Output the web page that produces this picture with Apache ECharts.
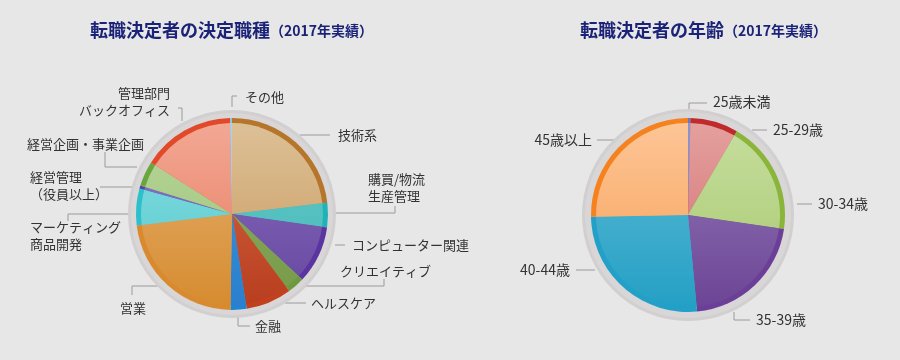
<!DOCTYPE html>
<html><head><meta charset="utf-8">
<script src="https://cdn.jsdelivr.net/npm/echarts@6/dist/echarts.min.js"></script>
<style>html,body{margin:0;padding:0;background:#e8e7e7}#c{width:900px;height:360px}</style>
</head><body><div id="c"></div>
<script>
// ---- data ----
const jobCategories = ['技術系','購買/物流\n生産管理','コンピューター関連','クリエイティブ','ヘルスケア','金融','営業','マーケティング\n商品開発','経営管理\n（役員以上）','経営企画・事業企画','管理部門\nバックオフィス','その他'];
const jobValues = [23.1, 4.1, 9.7, 2.9, 7.7, 2.7, 22.8, 6.2, 0.5, 4.2, 15.7, 0.3];
const ageCategories = ['25歳未満','25-29歳','30-34歳','35-39歳','40-44歳','45歳以上'];
const ageValues = [0.4, 8.0, 18.9, 21.2, 26.2, 25.3];

// ---- styles ----
const jobRim  = ['#b5762c','#1fb2b8','#5a34a0','#6d9a3e','#c2401e','#2383d3','#d98a2e','#2cc0cc','#5443a8','#6aa63e','#e2492a','#8cc4e4'];
const jobTop  = ['#dcc096','#62c8c8','#8a6fbd','#8fb065','#d66a4a','#4096dc','#e6b272','#80dcdf','#8a7cc8','#b8d69a','#f2a894','#a8d4ec'];
const jobBot  = ['#c99a5e','#48b8b8','#6546a0','#769a48','#b83e1e','#2a80cc','#d68c30','#5ccad0','#6656b0','#9cc078','#e8785c','#90c4e0'];
const ageRim  = ['#6a78c4','#bf2a2a','#8ab53a','#6b3f98','#22a0c8','#f5821f'];
const ageTop  = ['#8a94d0','#e4a09e','#c6de9e','#957bb8','#62bcd8','#fdc596'];
const ageBot  = ['#7080c0','#d06c6c','#a6c86e','#6c4596','#24a0c4','#f7a055'];

// label placement (styling): label anchor [x, y, align, verticalAlign] and leader-line polyline
const jobLabelPos = [
  [338,135,'left','middle'], [368,188,'left','middle'], [352,245,'left','middle'], [340,271,'left','middle'],
  [311,303,'left','middle'], [255,326,'left','middle'], [120,308,'left','middle'], [30,236,'left','middle'],
  [30,186,'left','middle'], [27,144,'left','middle'], [170,102,'right','middle'], [245,97,'left','middle']
];
const jobLeader = [
  [[300,135],[330,135]], [[336,213],[395,213],[395,206]], [[335,245],[345,245]], [[303,286],[384,286],[384,279]],
  [[285,303],[306,303]], [[238,311],[238,326],[250,326]], [[160,286],[132,286],[132,295]], [[128,214],[68,214],[68,221]],
  [[132,187],[100,187]], [[137,167],[105,167],[105,152]], [[182,121],[182,108],[178,108]], [[232,107],[232,96],[237,96]]
];
const ageLabelPos = [
  [713,102,'left','middle'], [773,130,'left','middle'], [818,204,'left','middle'],
  [756,320,'left','middle'], [570,270,'right','middle'], [592,140,'right','middle']
];
const ageLeader = [
  [[689,112],[689,103],[707,103]], [[752,130],[767,130]], [[797,204],[812,204]],
  [[734,312],[734,320],[750,320]], [[595,270],[576,270]], [[615,140],[597,140]]
];

const font = '"Noto Sans CJK JP","Noto Sans",sans-serif';
function grad(cy, r, c1, c2) {
  return new echarts.graphic.LinearGradient(0, cy - r, 0, cy + r, [{offset:0,color:c1},{offset:1,color:c2}], true);
}
function pieSet(center, rFill, rRim, rRing, names, values, rim, top, bot, labelPos, leader, fs) {
  const cy = center[1];
  const base = {type:'pie', center, startAngle:90, clockwise:true, animation:false, silent:true,
    label:{show:false}, labelLine:{show:false}, itemStyle:{borderWidth:0}};
  return [
    Object.assign({}, base, {radius:[0, rRing], data:[{value:1, name:'ring', itemStyle:{color:'#d1cfcf'}}]}),
    Object.assign({}, base, {radius:[0, rRing-3], data:[{value:1, name:'ring2', itemStyle:{color:'#d8d6d6'}}]}),
    Object.assign({}, base, {radius:[0, rRim], data:names.map((n,i)=>({name:n, value:values[i], itemStyle:{color:rim[i]}}))}),
    Object.assign({}, base, {radius:[0, rFill], data:names.map((n,i)=>({name:n, value:values[i], itemStyle:{color:grad(cy, rFill, top[i], bot[i])}}))}),
    Object.assign({}, base, {radius:[0, rRing], avoidLabelOverlap:false,
      data:names.map((n,i)=>({name:n, value:values[i], itemStyle:{color:'rgba(0,0,0,0)'}})),
      label:{show:true, formatter:'{b}', color:'#333', fontSize:fs, fontFamily:font, lineHeight:17},
      labelLine:{show:true, length:8, length2:14, lineStyle:{color:'#9a9a9a', width:1}},
      labelLayout:function(p){
        const i = p.dataIndex, lp = labelPos[i];
        return {x:lp[0], y:lp[1], align:lp[2], verticalAlign:lp[3], labelLinePoints:leader[i]};
      }})
  ];
}

const chart = echarts.init(document.getElementById('c'), null, {renderer:'canvas'});
const titleStyle = {color:'#1a2378', fontSize:18, fontWeight:'bold', fontFamily:font,
  rich:{s:{fontSize:14, fontWeight:'bold', color:'#1a2378', fontFamily:font, padding:[2,0,0,0]}}};
chart.setOption({
  backgroundColor:'#e8e7e7',
  title:[
    {text:'転職決定者の決定職種{s|（2017年実績）}', left:90, top:21, padding:0, textStyle:titleStyle},
    {text:'転職決定者の年齢{s|（2017年実績）}', left:580, top:21, padding:0, textStyle:titleStyle}
  ],
  series:[].concat(
    pieSet([232,214], 91, 96, 104, jobCategories, jobValues, jobRim, jobTop, jobBot, jobLabelPos, jobLeader, 13),
    pieSet([688,215], 92, 97, 106, ageCategories, ageValues, ageRim, ageTop, ageBot, ageLabelPos, ageLeader, 14)
  )
});
</script></body></html>
